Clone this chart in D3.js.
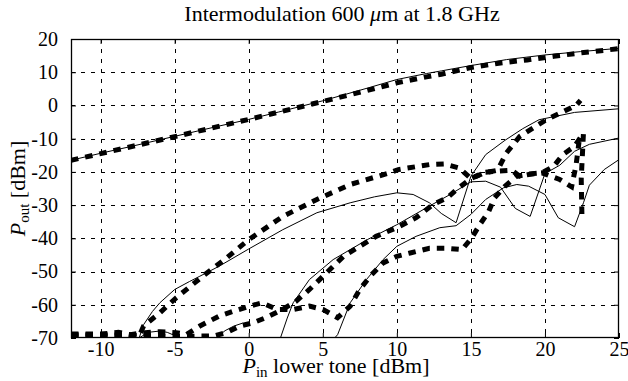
<!DOCTYPE html>
<html>
<head>
<meta charset="utf-8">
<script src="https://cdn.jsdelivr.net/npm/d3@7"></script>
<style>
body { margin: 0; background: #fff; }
</style>
</head>
<body>
<svg id="chart" width="628" height="381"></svg>
<script>
// axis ticks
const xTicks = [-10, -5, 0, 5, 10, 15, 20, 25];
const yTicks = [-70, -60, -50, -40, -30, -20, -10, 0, 10, 20];

// fundamental tone, measured (solid) and simulated (dashed)
const fundSolid = [[-12,-16.5],[-10,-14.4],[-8,-12.4],[-5,-9.3],[-2,-6.2],[0,-4.2],[2,-2],[5,1.4],[8,5.2],[10,7.8],[12,9.6],[13,10.4],[15,12],[17.4,13.8],[20,15.2],[22.4,16.2],[25,17.2]];
const fundDash = [[-12,-16.5],[-10,-14.5],[-5,-9.4],[0,-4.2],[5,1.2],[8,4.5],[10,6.8],[12,8.6],[13,9.4],[15,11.4],[17,12.8],[18.8,13.7],[20.6,14.8],[22.4,15.8],[25,17.1]];

// intermodulation products, solid
const imSolidA = [[-7.4,-70],[-7.1,-66],[-6.5,-62],[-6,-59.4],[-5,-55.4],[-4,-53],[-3.3,-51.4],[-2,-48.4],[0,-43.2],[2.3,-37.4],[4.6,-32.3],[6.85,-29.3],[8.5,-27.5],[10,-26.3],[11.1,-26.8],[12.2,-29.3],[13,-32.5],[14,-35.3],[15,-21.3],[16,-14.8],[17.3,-10.5],[18.5,-7],[19.6,-4.3],[22,-2.1],[25,-1]];
const imSolidB = [[2.14,-70],[2.6,-64],[3,-59.4],[4.1,-52.4],[5.7,-46.4],[8,-40.4],[10,-35.9],[12.2,-30.3],[13.6,-26.8],[15,-23],[16,-22.8],[17,-24.6],[18,-31],[19,-33.4],[20,-20.5],[21,-18],[22,-13.8],[23,-11.7],[25,-9.8]];
const imSolidC = [[5.8,-70],[6,-69],[6.85,-59.4],[7.95,-52.4],[9.07,-46.4],[10,-42.4],[11.3,-39.4],[12.9,-36.8],[14,-36.2],[15,-32.8],[16,-28.3],[17.2,-24.8],[18.1,-23.8],[18.9,-24.3],[20,-26.8],[20.9,-33.8],[22,-36.5],[22.6,-29.3],[23,-24],[24,-19.3],[25,-16.3]];
const imSolidD = [[-7.4,-70],[-6.8,-68.3],[-6,-67.9],[-5.5,-68.3],[-4.6,-70],[-3.5,-73],[-2.4,-72],[-2.2,-70],[-1.6,-67.8],[-1,-66.4],[-0.4,-65.5]];

// intermodulation products, dashed
const imDashA = [[-12,-68.8],[-10,-68.8],[-8.8,-68.3],[-8,-69],[-7.4,-69.5],[-7.1,-66.4],[-6,-62.4],[-4.9,-57.9],[-3.1,-51.4],[-1.5,-45.9],[0,-40.4],[2.3,-33.4],[4.6,-28.3],[6.85,-23.8],[9.5,-20.3],[10.1,-19.3],[12.2,-17.8],[13.2,-17.6],[14.2,-18.8],[15,-22],[15.9,-20.3],[16.8,-19.5],[17.4,-14.3],[18.3,-9.3],[20.1,-4.3],[22.1,0],[22.4,1.5]];
const imDashB = [[-12,-69.3],[-8,-69.3],[-5,-69.5],[-2.4,-69.4],[-1.5,-68.4],[-0.6,-66.4],[0.3,-65.4],[1.2,-63.8],[2.3,-61.4],[3.2,-58.9],[4.1,-55.4],[5.25,-50.4],[6.4,-45.4],[7.5,-42.4],[8.6,-39.4],[10,-36.8],[11.3,-33.8],[12.45,-29.8],[13.4,-27.8],[14.1,-25.1],[15,-22],[15.95,-20.1],[16.7,-19.8],[17.75,-19.5],[18.3,-21.3],[18.9,-20.8],[19.8,-20.3],[21,-22.3],[21.8,-24.5],[22.1,-18],[22.3,-11]];
const imDashC = [[-12,-69],[-10,-69],[-8,-69],[-7,-68.4],[-6,-68.1],[-4.9,-68.4],[-4.2,-68.9],[-3.3,-66.4],[-2,-63.4],[-1,-61.9],[0,-60.5],[0.9,-59.4],[1.9,-61.4],[3,-61.4],[4.1,-60.4],[5,-61.4],[6,-63.9],[6.85,-60.4],[7.5,-55.4],[8.2,-51.4],[9.07,-47.4],[10,-45.4],[10.9,-44.4],[12.2,-43],[13.4,-43],[14.4,-43.4],[15.05,-39.9],[15.6,-35.9],[16.2,-31.9],[16.6,-27.8],[17.3,-24.3],[18.1,-21.3],[19,-20.6],[19.8,-20.3],[20.6,-18.3],[21.2,-14.8],[22,-12.3],[22.6,-8.3],[22.45,-22],[22.5,-34]];

const solidSeries = [fundSolid, imSolidA, imSolidB, imSolidC, imSolidD];
const dashSeries = [fundDash, imDashA, imDashB, imDashC];

const serif = "'Liberation Serif', 'Times New Roman', serif";
const svg = d3.select("#chart");
const L = 71, R = 619, T = 39, B = 338;

const x = d3.scaleLinear().domain([-12, 25]).range([L, R]);
const y = d3.scaleLinear().domain([-70, 20]).range([B, T]);

// grid
const grid = svg.append("g").attr("stroke", "#000").attr("stroke-width", 1)
    .attr("stroke-dasharray", "4,6");
grid.selectAll("line.vx")
    .data(xTicks.filter(d => d > -12 && d < 25))
    .enter().append("line")
    .attr("x1", d => Math.round(x(d)) + 0.5).attr("x2", d => Math.round(x(d)) + 0.5)
    .attr("y1", T).attr("y2", B);
grid.selectAll("line.hy")
    .data(yTicks.filter(d => d > -70 && d < 20))
    .enter().append("line")
    .attr("y1", d => Math.round(y(d)) + 0.5).attr("y2", d => Math.round(y(d)) + 0.5)
    .attr("x1", L).attr("x2", R);

// axes with inward ticks
const gBottom = svg.append("g").attr("transform", `translate(0,${B})`)
    .call(d3.axisBottom(x).tickValues(xTicks).tickSize(-5).tickPadding(4));
const gTop = svg.append("g").attr("transform", `translate(0,${T})`)
    .call(d3.axisTop(x).tickValues(xTicks).tickSize(-5).tickFormat(""));
const gLeft = svg.append("g").attr("transform", `translate(${L},0)`)
    .call(d3.axisLeft(y).tickValues(yTicks).tickSize(-5).tickPadding(13));
const gRight = svg.append("g").attr("transform", `translate(${R},0)`)
    .call(d3.axisRight(y).tickValues(yTicks).tickSize(-5).tickFormat(""));
[gBottom, gTop, gLeft, gRight].forEach(g => {
    g.attr("font-family", serif).attr("font-size", 20);
    g.select(".domain").remove();
    g.selectAll("line").attr("stroke", "#000");
    g.selectAll("text").attr("fill", "#000");
});
gLeft.selectAll("text").text(d => d < 0 ? "-" + Math.abs(d) : d);
gBottom.selectAll("text").text(d => d < 0 ? "-" + Math.abs(d) : d);

// clip
svg.append("clipPath").attr("id", "plotclip")
    .append("rect").attr("x", L).attr("y", T).attr("width", R - L).attr("height", B - T);

const line = d3.line().x(d => x(d[0])).y(d => y(d[1]));
const plot = svg.append("g").attr("clip-path", "url(#plotclip)");

plot.selectAll("path.solid")
    .data(solidSeries)
    .enter().append("path")
    .attr("class", "solid")
    .attr("d", line)
    .attr("fill", "none").attr("stroke", "#000").attr("stroke-width", 1);

plot.selectAll("path.dash")
    .data(dashSeries)
    .enter().append("path")
    .attr("class", "dash")
    .attr("d", line)
    .attr("fill", "none").attr("stroke", "#000").attr("stroke-width", 5)
    .attr("stroke-dasharray", "7.5,7");

// frame
svg.append("rect").attr("x", L + 0.5).attr("y", T + 0.5)
    .attr("width", R - L - 1).attr("height", B - T - 1)
    .attr("fill", "none").attr("stroke", "#000").attr("stroke-width", 1.3);

// title
const title = svg.append("text").attr("x", 342).attr("y", 21)
    .attr("text-anchor", "middle").attr("font-family", serif).attr("font-size", 22);
title.append("tspan").text("Intermodulation 600 ");
title.append("tspan").attr("font-style", "italic").text("\u03bc");
title.append("tspan").text("m at 1.8 GHz");

// x label
const xl = svg.append("text").attr("x", 336).attr("y", 373)
    .attr("text-anchor", "middle").attr("font-family", serif).attr("font-size", 22);
xl.append("tspan").attr("font-style", "italic").text("P");
xl.append("tspan").attr("font-size", 15).attr("dy", 4).text("in");
xl.append("tspan").attr("dy", -4).text(" lower tone [dBm]");

// y label
const yl = svg.append("text")
    .attr("transform", `translate(25,${(T + B) / 2}) rotate(-90)`)
    .attr("text-anchor", "middle").attr("font-family", serif).attr("font-size", 22);
yl.append("tspan").attr("font-style", "italic").text("P");
yl.append("tspan").attr("font-size", 15).attr("dy", 4).text("out");
yl.append("tspan").attr("dy", -4).text(" [dBm]");
</script>
</body>
</html>
